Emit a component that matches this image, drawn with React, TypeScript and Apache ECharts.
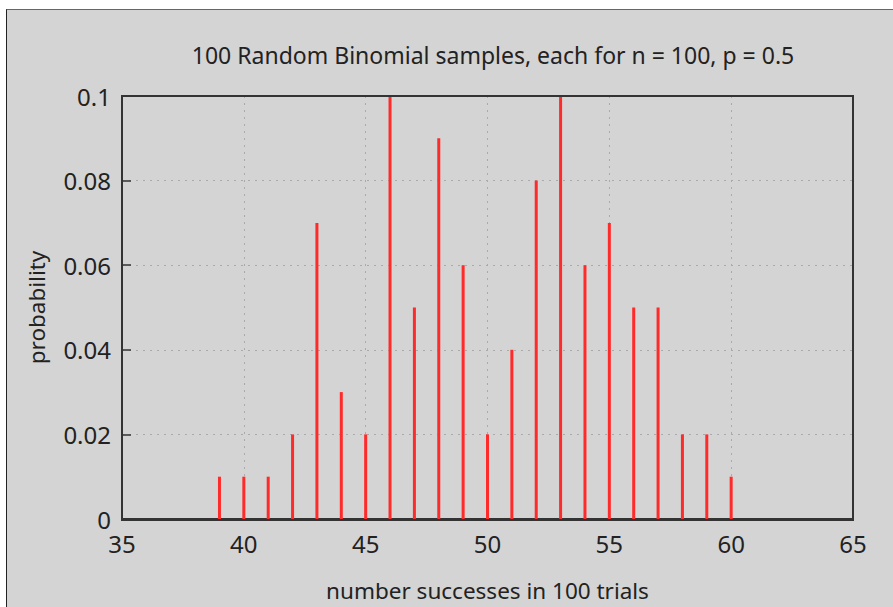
import React, { useEffect, useRef } from "react";
import * as echarts from "echarts";

const successes = [39, 40, 41, 42, 43, 44, 45, 46, 47, 48, 49, 50, 51, 52, 53, 54, 55, 56, 57, 58, 59, 60];
const probabilities = [0.01, 0.01, 0.01, 0.02, 0.07, 0.03, 0.02, 0.10, 0.05, 0.09, 0.06, 0.02, 0.04, 0.08, 0.10, 0.06, 0.07, 0.05, 0.05, 0.02, 0.02, 0.01];
const titleText = "100 Random Binomial samples, each for n = 100, p = 0.5";
const xName = "number successes in 100 trials";
const yName = "probability";

const FONT = "Noto Sans";

export default function App() {
  const ref = useRef<HTMLDivElement>(null);
  useEffect(() => {
    if (!ref.current) return;
    const chart = echarts.init(ref.current, null, { renderer: "svg" });
    const data = successes.map((x, i) => [x, probabilities[i]]);
    chart.setOption({
      animation: false,
      backgroundColor: "transparent",
      textStyle: { fontFamily: FONT },
      title: {
        text: titleText,
        left: 488,
        textAlign: "center",
        top: 38,
        textStyle: { fontFamily: FONT, fontSize: 23, fontWeight: "normal", color: "#222" },
      },
      grid: { left: 122, right: 40, top: 96, bottom: 87, show: false },
      xAxis: {
        type: "value",
        min: 35,
        max: 65,
        interval: 5,
        name: xName,
        nameLocation: "middle",
        nameGap: 60,
        nameTextStyle: { fontFamily: FONT, fontSize: 22.5, color: "#222" },
        axisLine: { show: true, onZero: false, lineStyle: { color: "#333", width: 2 } },
        axisTick: { show: false },
        axisLabel: { fontFamily: FONT, fontSize: 24, color: "#222", margin: 12 },
        splitLine: { show: true, lineStyle: { color: "#aaa", type: [2, 5], width: 1 } },
      },
      yAxis: {
        type: "value",
        min: 0,
        max: 0.1,
        interval: 0.02,
        name: yName,
        nameLocation: "middle",
        nameGap: 74,
        nameRotate: 90,
        nameTextStyle: { fontFamily: FONT, fontSize: 22.5, color: "#222" },
        axisLine: { show: true, lineStyle: { color: "#333", width: 2 } },
        axisTick: { show: true, inside: true, length: 9, lineStyle: { color: "#333", width: 1.5 } },
        axisLabel: {
          fontFamily: FONT,
          fontSize: 24,
          color: "#222",
          margin: 11,
          formatter: (v: number) => (v === 0 ? "0" : String(parseFloat(v.toFixed(2)))),
        },
        splitLine: { show: true, lineStyle: { color: "#aaa", type: [2, 5], width: 1 } },
      },
      graphic: [
        {
          type: "rect",
          shape: { x: 122, y: 96, width: 731, height: 424 },
          style: { fill: "none", stroke: "#333", lineWidth: 2 },
          silent: true,
          z: 10,
        },
      ],
      series: [
        {
          type: "bar",
          data,
          barWidth: 3,
          itemStyle: { color: "#ff2a2a" },
          z: 5,
        },
      ],
    });
    return () => chart.dispose();
  }, []);
  return (
    <div style={{ position: "fixed", left: 0, top: 0, width: 893, height: 607, background: "#fff" }}>
      <div
        style={{
          position: "absolute",
          left: 6,
          top: 9,
          width: 887,
          height: 598,
          background: "#d4d4d4",
          borderTop: "1px solid #666",
          borderLeft: "1px solid #222",
          boxSizing: "border-box",
        }}
      />
      <div ref={ref} style={{ position: "absolute", left: 0, top: 0, width: 893, height: 607 }} />
    </div>
  );
}
